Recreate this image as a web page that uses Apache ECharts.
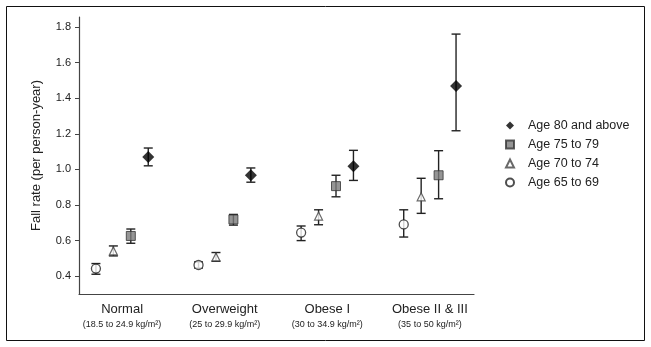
<!DOCTYPE html>
<html>
<head>
<meta charset="utf-8">
<script src="https://cdn.jsdelivr.net/npm/echarts@6/dist/echarts.min.js"></script>
<style>
  html, body { margin: 0; padding: 0; background: #fff; }
  #main { width: 651px; height: 347px; }
</style>
</head>
<body>
<div id="main"></div>
<script>
// BMI groups (x axis)
var categories = ['Normal', 'Overweight', 'Obese I', 'Obese II & III']
var bmiRanges = ['(18.5 to 24.9 kg/m²)', '(25 to 29.9 kg/m²)', '(30 to 34.9 kg/m²)', '(35 to 50 kg/m²)']
var yTicks = [0.4, 0.6, 0.8, 1.0, 1.2, 1.4, 1.6, 1.8]

// fall rate, lower and upper error bar per age group
var age6569 = [0.443, 0.463, 0.645, 0.691]
var age6569Lo = [0.411, 0.446, 0.600, 0.620]
var age6569Hi = [0.471, 0.480, 0.682, 0.773]

var age7074 = [0.542, 0.508, 0.738, 0.846]
var age7074Lo = [0.514, 0.484, 0.689, 0.753]
var age7074Hi = [0.570, 0.533, 0.773, 0.950]

var age7579 = [0.626, 0.719, 0.906, 0.967]
var age7579Lo = [0.585, 0.687, 0.846, 0.835]
var age7579Hi = [0.665, 0.747, 0.967, 1.105]

var age80 = [1.070, 0.967, 1.018, 1.469]
var age80Lo = [1.020, 0.928, 0.938, 1.217]
var age80Hi = [1.120, 1.008, 1.107, 1.760]

var groups = [
  { name: 'Age 65 to 69', off: -0.255, mean: age6569, lo: age6569Lo, hi: age6569Hi,
    symbol: 'circle', size: 9, style: { color: '#fff', borderColor: '#222', borderWidth: 1.3 } },
  { name: 'Age 70 to 74', off: -0.085, mean: age7074, lo: age7074Lo, hi: age7074Hi,
    symbol: 'triangle', size: 8, style: { color: '#fff', borderColor: '#444', borderWidth: 1.2 } },
  { name: 'Age 75 to 79', off: 0.085, mean: age7579, lo: age7579Lo, hi: age7579Hi,
    symbol: 'rect', size: 9, style: { color: '#7a7a7a', borderColor: '#333', borderWidth: 1 } },
  { name: 'Age 80 and above', off: 0.255, mean: age80, lo: age80Lo, hi: age80Hi,
    symbol: 'diamond', size: 12, style: { color: '#000', borderColor: '#000', borderWidth: 0 } }
]

function errorBars(params, api) {
  var top = api.coord([api.value(0), api.value(2)])
  var bot = api.coord([api.value(0), api.value(1)])
  var w = 4.5
  var st = { stroke: '#222', lineWidth: 1.4 }
  return {
    type: 'group',
    children: [
      { type: 'line', shape: { x1: top[0], y1: top[1], x2: bot[0], y2: bot[1] }, style: st },
      { type: 'line', shape: { x1: top[0] - w, y1: top[1], x2: top[0] + w, y2: top[1] }, style: st },
      { type: 'line', shape: { x1: bot[0] - w, y1: bot[1], x2: bot[0] + w, y2: bot[1] }, style: st }
    ]
  }
}

var series = []
groups.forEach(function (g) {
  series.push({
    type: 'custom',
    renderItem: errorBars,
    silent: true,
    z: 1,
    data: g.mean.map(function (v, i) { return [i + g.off, g.lo[i], g.hi[i]] })
  })
})
groups.forEach(function (g) {
  series.push({
    name: g.name,
    type: 'scatter',
    symbol: g.symbol,
    symbolSize: g.size,
    itemStyle: g.style,
    z: 3,
    data: g.mean.map(function (v, i) { return [i + g.off, v] })
  })
})

var myChart = echarts.init(document.getElementById('main'))

var option = {
  animation: false,
  backgroundColor: '#fff',
  textStyle: { fontFamily: 'Liberation Sans, Arial, sans-serif' },
  graphic: [{
    type: 'rect',
    shape: { x: 6.5, y: 6.5, width: 638, height: 334 },
    style: { fill: null, stroke: '#111', lineWidth: 1 },
    silent: true
  }],
  grid: { left: 79, right: 177, top: 17, bottom: 53 },
  legend: {
    orient: 'vertical',
    left: 500,
    top: 114,
    itemWidth: 8,
    itemHeight: 8,
    itemGap: 6,
    data: ['Age 80 and above', 'Age 75 to 79', 'Age 70 to 74', 'Age 65 to 69'],
    textStyle: {
      fontSize: 12.5, color: '#222', padding: [0, 0, 0, 9],
      fontFamily: 'Liberation Sans, Arial, sans-serif'
    }
  },
  xAxis: {
    type: 'value',
    min: -0.42,
    max: 3.43,
    splitLine: { show: false },
    axisTick: { show: false },
    axisLine: { onZero: false, lineStyle: { color: '#444', width: 1.2 } },
    axisLabel: {
      customValues: [0, 1, 2, 3],
      margin: 7,
      formatter: function (v) {
        var i = Math.round(v)
        return '{a|' + categories[i] + '}\n{b|' + bmiRanges[i] + '}'
      },
      rich: {
        a: { fontSize: 13, color: '#222', lineHeight: 17 },
        b: { fontSize: 9, color: '#222', lineHeight: 14 }
      }
    }
  },
  yAxis: {
    type: 'value',
    min: 0.3,
    max: 1.856,
    name: 'Fall rate (per person-year)',
    nameLocation: 'middle',
    nameGap: 36,
    nameTextStyle: { fontSize: 13, color: '#222' },
    splitLine: { show: false },
    axisLine: { show: true, onZero: false, lineStyle: { color: '#444', width: 1.2 } },
    axisTick: { show: true, customValues: yTicks, length: 4, lineStyle: { color: '#444' } },
    axisLabel: {
      customValues: yTicks,
      fontSize: 11,
      color: '#222',
      margin: 8,
      formatter: function (v) { return v.toFixed(1) }
    }
  },
  series: series
}

myChart.setOption(option)
</script>
</body>
</html>
